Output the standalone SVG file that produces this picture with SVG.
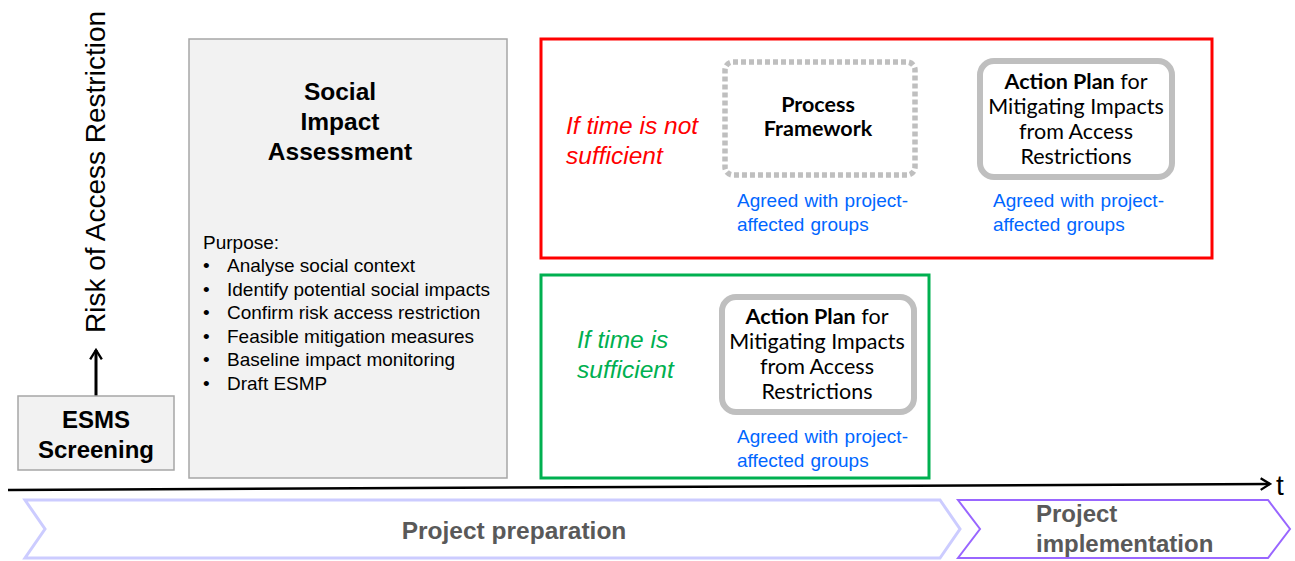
<svg xmlns="http://www.w3.org/2000/svg" width="1295" height="561" viewBox="0 0 1295 561">
<defs>
<style>
.gbox{fill:#f2f2f2;stroke:#a6a6a6;stroke-width:1.5}
.ar{font-family:"Liberation Sans",Arial,sans-serif}
.cal{font-family:Lato,"Open Sans",sans-serif;font-size:21.5px;fill:#000;text-anchor:middle}
.blue{font-family:"Liberation Sans",Arial,sans-serif;font-size:19px;fill:#0066ff;word-spacing:1px}
.plan{fill:#fff;stroke:#bfbfbf;stroke-width:6}
.item{font-family:"Liberation Sans",Arial,sans-serif;font-size:19px;fill:#000}
</style>
<marker id="ah2" viewBox="0 0 12 12" refX="10" refY="6" markerWidth="14" markerHeight="14" orient="auto" markerUnits="userSpaceOnUse">
<path d="M2,1 L10,6 L2,11" fill="none" stroke="#000" stroke-width="2"/>
</marker>
</defs>
<rect width="1295" height="561" fill="#fff"/>

<g id="connectors">
<line x1="96" y1="396" x2="96" y2="350" stroke="#000" stroke-width="3" marker-end="url(#ah2)"/>
<line x1="8" y1="490" x2="1270" y2="484" stroke="#000" stroke-width="2.5" marker-end="url(#ah2)"/>
</g>

<g id="axis-label">
<text class="ar" transform="translate(105,172) rotate(-90)" font-size="28" text-anchor="middle">Risk of Access Restriction</text>
<text class="ar" x="1276" y="495" font-size="28">t</text>
</g>

<g id="esms">
<rect class="gbox" x="18" y="396" width="156" height="74"/>
<text class="ar" x="96" y="428" font-size="24" font-weight="bold" text-anchor="middle">ESMS</text>
<text class="ar" x="96" y="458" font-size="24" font-weight="bold" text-anchor="middle">Screening</text>
</g>

<g id="sia">
<rect class="gbox" x="189" y="39" width="318" height="439"/>
<text class="ar" x="340" y="100" font-size="24.5" font-weight="bold" text-anchor="middle">Social</text>
<text class="ar" x="340" y="130" font-size="24.5" font-weight="bold" text-anchor="middle">Impact</text>
<text class="ar" x="340" y="160" font-size="24.5" font-weight="bold" text-anchor="middle">Assessment</text>
<text class="item" x="203" y="249">Purpose:</text>
<g>
<text class="item" x="203" y="272">•</text><text class="item" x="227" y="272">Analyse social context</text>
<text class="item" x="203" y="296">•</text><text class="item" x="227" y="296">Identify potential social impacts</text>
<text class="item" x="203" y="319">•</text><text class="item" x="227" y="319">Confirm risk access restriction</text>
<text class="item" x="203" y="343">•</text><text class="item" x="227" y="343">Feasible mitigation measures</text>
<text class="item" x="203" y="366">•</text><text class="item" x="227" y="366">Baseline impact monitoring</text>
<text class="item" x="203" y="390">•</text><text class="item" x="227" y="390">Draft ESMP</text>
</g>
</g>

<g id="not-sufficient">
<rect x="541" y="39" width="671" height="219" fill="#fff" stroke="#ff0000" stroke-width="3"/>
<text class="ar" x="566" y="134" font-size="24.5" font-style="italic" fill="#ff0000">If time is not</text>
<text class="ar" x="566" y="164" font-size="24.5" font-style="italic" fill="#ff0000">sufficient</text>
</g>

<g id="process-framework">
<rect x="725" y="62" width="190" height="113" rx="8" fill="#fff" stroke="#bfbfbf" stroke-width="5.5" stroke-dasharray="5,3"/>
<text class="cal" x="818" y="112" font-weight="bold">Process</text>
<text class="cal" x="818" y="136" font-weight="bold">Framework</text>
<text class="blue" x="737" y="207">Agreed with project-</text>
<text class="blue" x="737" y="231">affected groups</text>
</g>

<g id="action-plan-1">
<rect class="plan" x="980" y="61" width="192" height="116" rx="14"/>
<text class="cal" x="1076" y="89"><tspan font-weight="bold">Action Plan</tspan> for</text>
<text class="cal" x="1076" y="114">Mitigating Impacts</text>
<text class="cal" x="1076" y="139">from Access</text>
<text class="cal" x="1076" y="164">Restrictions</text>
<text class="blue" x="993" y="207">Agreed with project-</text>
<text class="blue" x="993" y="231">affected groups</text>
</g>

<g id="sufficient">
<rect x="541" y="275" width="388" height="203" fill="#fff" stroke="#00b050" stroke-width="3"/>
<text class="ar" x="577" y="348" font-size="24.5" font-style="italic" fill="#00b050">If time is</text>
<text class="ar" x="577" y="378" font-size="24.5" font-style="italic" fill="#00b050">sufficient</text>
</g>

<g id="action-plan-2">
<rect class="plan" x="722" y="297" width="192" height="115" rx="14"/>
<text class="cal" x="817" y="324"><tspan font-weight="bold">Action Plan</tspan> for</text>
<text class="cal" x="817" y="349">Mitigating Impacts</text>
<text class="cal" x="817" y="374">from Access</text>
<text class="cal" x="817" y="399">Restrictions</text>
<text class="blue" x="737" y="443">Agreed with project-</text>
<text class="blue" x="737" y="467">affected groups</text>
</g>

<g id="project-preparation">
<polygon points="25,500 940,500 960,529 940,558 25,558 45,529" fill="#fff" stroke="#ccccff" stroke-width="3"/>
<text class="ar" x="514" y="539" font-size="24.5" font-weight="bold" fill="#595959" text-anchor="middle">Project preparation</text>
</g>

<g id="project-implementation">
<polygon points="958,500 1268,500 1290,529 1268,558 958,558 980,529" fill="#fff" stroke="#9966ff" stroke-width="2"/>
<text class="ar" x="1036" y="522" font-size="24" font-weight="bold" fill="#595959">Project</text>
<text class="ar" x="1036" y="552" font-size="24" font-weight="bold" fill="#595959">implementation</text>
</g>
</svg>
